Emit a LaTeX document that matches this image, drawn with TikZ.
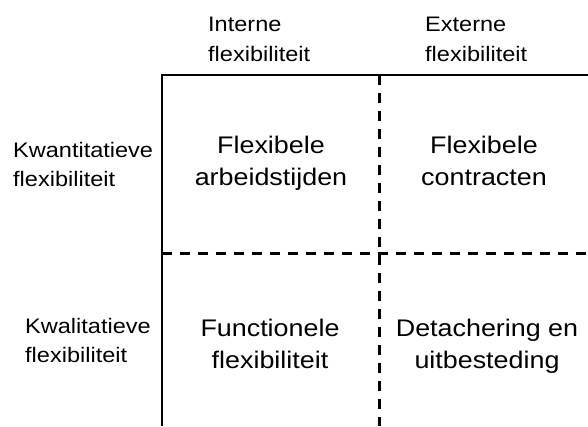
\documentclass[tikz,border=0pt]{standalone}
\usepackage{fontspec}
\setmainfont[FakeStretch=1.12]{Liberation Sans}
\begin{document}
\begin{tikzpicture}[x=1pt,y=-1pt,
  solidline/.style={line width=2pt},
  dashline/.style={line width=3pt, dash pattern=on 10pt off 8pt},
  axislabel/.style={font=\fontsize{21}{29.5}\selectfont, align=left, inner sep=0pt, anchor=north west},
  cell/.style={font=\fontsize{24}{31.5}\selectfont, align=center, inner sep=0pt, anchor=north}]
\useasboundingbox (0,0) rectangle (588,426);

% frame corners and ends of the grid lines
\coordinate (tl) at (161.5,74.5);
\coordinate (tr) at (588,74.5);
\coordinate (bl) at (161.5,426);
\coordinate (mt) at (379,74.5);
\coordinate (mb) at (379,426);
\coordinate (ml) at (161.5,253);
\coordinate (mr) at (588,253);

% solid axes
\draw[solidline] (tr) -- (tl) -- (bl);
% dashed dividers
\draw[dashline] (mt) -- (mb);
\draw[dashline] (ml) -- (mr);

% column headings
\node[axislabel] (intern) at (208,17) {Interne\\flexibiliteit};
\node[axislabel] (extern) at (425,17) {Externe\\flexibiliteit};

% row headings
\node[axislabel] (kwant) at (13,142) {Kwantitatieve\\flexibiliteit};
\node[axislabel] (kwal) at (25,318) {Kwalitatieve\\flexibiliteit};

% quadrants
\node[cell] (c11) at (271,136) {Flexibele\\arbeidstijden};
\node[cell] (c12) at (484,136) {Flexibele\\contracten};
\node[cell] (c21) at (270,319) {Functionele\\flexibiliteit};
\node[cell] (c22) at (487,319) {Detachering en\\uitbesteding};
\end{tikzpicture}
\end{document}
